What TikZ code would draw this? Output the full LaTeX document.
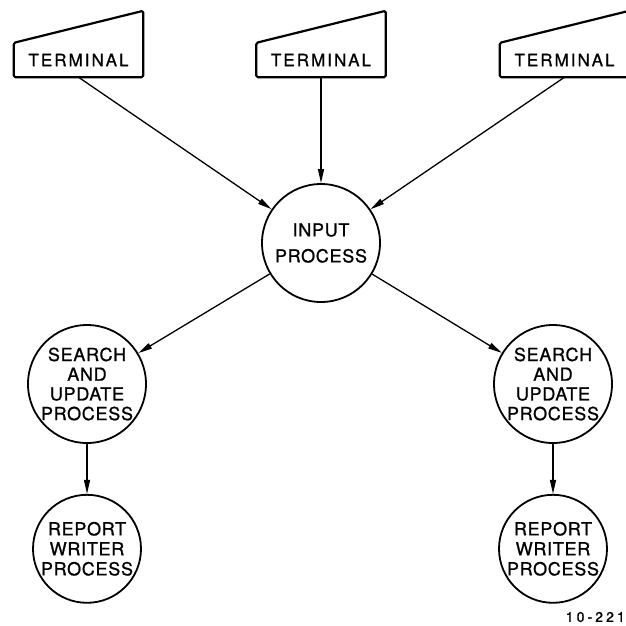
\documentclass[tikz,border=0pt]{standalone}
\usepackage{fontspec}
\setmainfont{TeX Gyre Heros}
\newfontfamily\termfont[LetterSpace=12, FakeBold=1]{TeX Gyre Heros}
\newfontfamily\procfont[LetterSpace=4, FakeBold=1]{TeX Gyre Heros}
\newfontfamily\numfont[LetterSpace=22, FakeBold=0.8]{TeX Gyre Heros}
\usetikzlibrary{arrows.meta, positioning}

\begin{document}
\begin{tikzpicture}[x=1pt, y=-1pt, node distance=50pt,
  term/.style={rectangle, minimum width=129pt, minimum height=34pt, inner sep=0pt, font=\termfont\fontsize{17}{20}\selectfont},
  termline/.style={line width=2.2pt, line join=round, rounded corners=1.5pt},
  proc/.style={circle, draw, line width=1.8pt, minimum size=118pt, inner sep=0pt, align=center, font=\procfont\fontsize{18}{19.7}\selectfont},
  small/.style={proc, minimum size=108pt, font=\procfont\fontsize{18}{20}\selectfont},
  arr/.style={-{Triangle[length=14pt, width=6pt]}, line width=1.3pt}
]
\useasboundingbox (0,0) rectangle (626,625);

% terminals along the top
\node[term] (t1) at (78.5,60) {TERMINAL};
\node[term] (t2) at (321,60) {TERMINAL};
\node[term] (t3) at (564.5,60) {TERMINAL};
\foreach \t in {t1,t2,t3}
  \draw[termline] (\t.south west) -- (\t.north west) -- ([yshift=32pt]\t.north east) -- (\t.south east) -- cycle;

% processes
\node[proc, font=\procfont\fontsize{18}{26}\selectfont] (in) at (321,243) {INPUT\\PROCESS};
\node[proc] (sl) at (87,384) {SEARCH\\AND\\UPDATE\\PROCESS};
\node[proc] (sr) at (553,384) {SEARCH\\AND\\UPDATE\\PROCESS};
\node[small, below=of sl] (rl) {REPORT\\WRITER\\PROCESS};
\node[small, below=of sr] (rr) {REPORT\\WRITER\\PROCESS};

\node[font=\numfont\fontsize{14}{16}\selectfont, inner sep=0pt, anchor=east] (num) at (625,617) {10-221};

\draw[arr] (t1.south) -- (in);
\draw[arr] (t2) -- (in);
\draw[arr] (t3.south) -- (in);
\draw[arr] (in) -- (sl);
\draw[arr] (in) -- (sr);
\draw[arr] (sl) -- (rl);
\draw[arr] (sr) -- (rr);
\end{tikzpicture}
\end{document}
